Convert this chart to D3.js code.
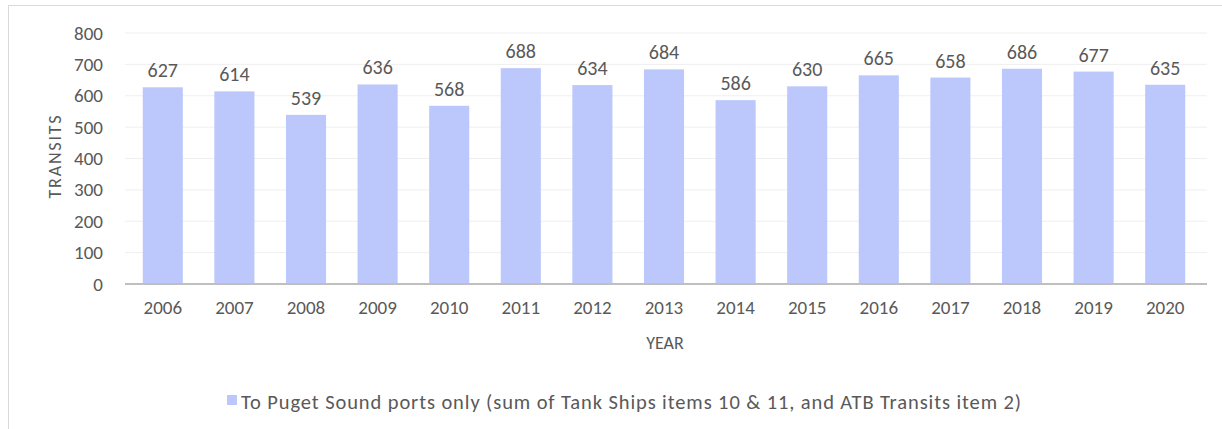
<!DOCTYPE html>
<html>
<head>
<meta charset="utf-8">
<script src="https://cdn.jsdelivr.net/npm/d3@7"></script>
<style>
  body { margin: 0; background: #fff; }
  text { font-family: Carlito, Lato, "Liberation Sans", sans-serif; fill: #595959; }
</style>
</head>
<body>
<svg></svg>
<script>
var svg_width = 1222;
var svg_height = 429;

// DATA
var years = ["2006", "2007", "2008", "2009", "2010", "2011", "2012", "2013",
             "2014", "2015", "2016", "2017", "2018", "2019", "2020"];
var transits = [627, 614, 539, 636, 568, 688, 634, 684, 586, 630, 665, 658, 686, 677, 635];
var yTicks = [0, 100, 200, 300, 400, 500, 600, 700, 800];
var legendLabel = "To Puget Sound ports only (sum of Tank Ships items 10 & 11, and ATB Transits item 2)";

var data = years.map(function(y, i) { return { year: y, value: transits[i] }; });

var svg = d3.select("svg")
    .attr("width", svg_width)
    .attr("height", svg_height);

// frame
svg.append("rect")
    .attr("x", 8.5).attr("y", 5.5)
    .attr("width", 1220).attr("height", 440)
    .attr("fill", "none")
    .attr("stroke", "#d9d9d9");

// SCALES
var xScale = d3.scaleBand()
    .domain(years)
    .range([127, 1201])
    .paddingInner(0.44)
    .paddingOuter(0.22);

var yScale = d3.scaleLinear()
    .domain([0, 800])
    .range([284, 33]);

// gridlines
svg.append("g")
    .selectAll("line")
    .data(yTicks.slice(1))
    .enter()
    .append("line")
      .attr("x1", 125).attr("x2", 1207)
      .attr("y1", function(d) { return yScale(d); })
      .attr("y2", function(d) { return yScale(d); })
      .attr("stroke", "#efefef")
      .attr("stroke-width", 1);

// bars
svg.append("g")
    .selectAll("rect")
    .data(data)
    .enter()
    .append("rect")
      .attr("x", function(d) { return xScale(d.year); })
      .attr("y", function(d) { return yScale(d.value); })
      .attr("width", xScale.bandwidth())
      .attr("height", function(d) { return yScale(0) - yScale(d.value); })
      .attr("fill", "#bcc8fb");

// value labels
svg.append("g")
    .selectAll("text")
    .data(data)
    .enter()
    .append("text")
      .attr("x", function(d) { return xScale(d.year) + xScale.bandwidth() / 2; })
      .attr("y", function(d) { return yScale(d.value) - 10; })
      .attr("text-anchor", "middle")
      .attr("font-size", "20px")
      .text(function(d) { return d.value; });

// AXES
var xAxis = d3.axisBottom(xScale).tickSize(0).tickPadding(17);
var yAxis = d3.axisLeft(yScale).tickValues(yTicks).tickSize(0).tickPadding(22);

var gx = svg.append("g")
    .attr("transform", "translate(0," + yScale(0) + ")")
    .call(xAxis);
gx.select(".domain").remove();
gx.selectAll("text").attr("font-size", "19px").style("fill", "#595959");

svg.append("line")
    .attr("x1", 125).attr("x2", 1207)
    .attr("y1", yScale(0)).attr("y2", yScale(0))
    .attr("stroke", "#bfbfbf")
    .attr("stroke-width", 2);

var gy = svg.append("g")
    .attr("transform", "translate(125,0)")
    .call(yAxis);
gy.select(".domain").remove();
gy.selectAll("text").attr("font-size", "19px").style("fill", "#595959");

// AXES LABELS
svg.append("text")
    .attr("x", 665)
    .attr("y", 349)
    .attr("text-anchor", "middle")
    .attr("font-size", "18px")
    .text("YEAR");

svg.append("text")
    .attr("transform", "rotate(-90)")
    .attr("x", -157)
    .attr("y", 61)
    .attr("text-anchor", "middle")
    .attr("font-size", "18px")
    .attr("textLength", 83)
    .text("TRANSITS");

// LEGEND
svg.append("rect")
    .attr("x", 227).attr("y", 395)
    .attr("width", 10).attr("height", 10)
    .attr("fill", "#bcc8fb");

svg.append("text")
    .attr("x", 241)
    .attr("y", 409)
    .attr("font-size", "20.5px")
    .attr("textLength", 780)
    .text(legendLabel);
</script>
</body>
</html>
